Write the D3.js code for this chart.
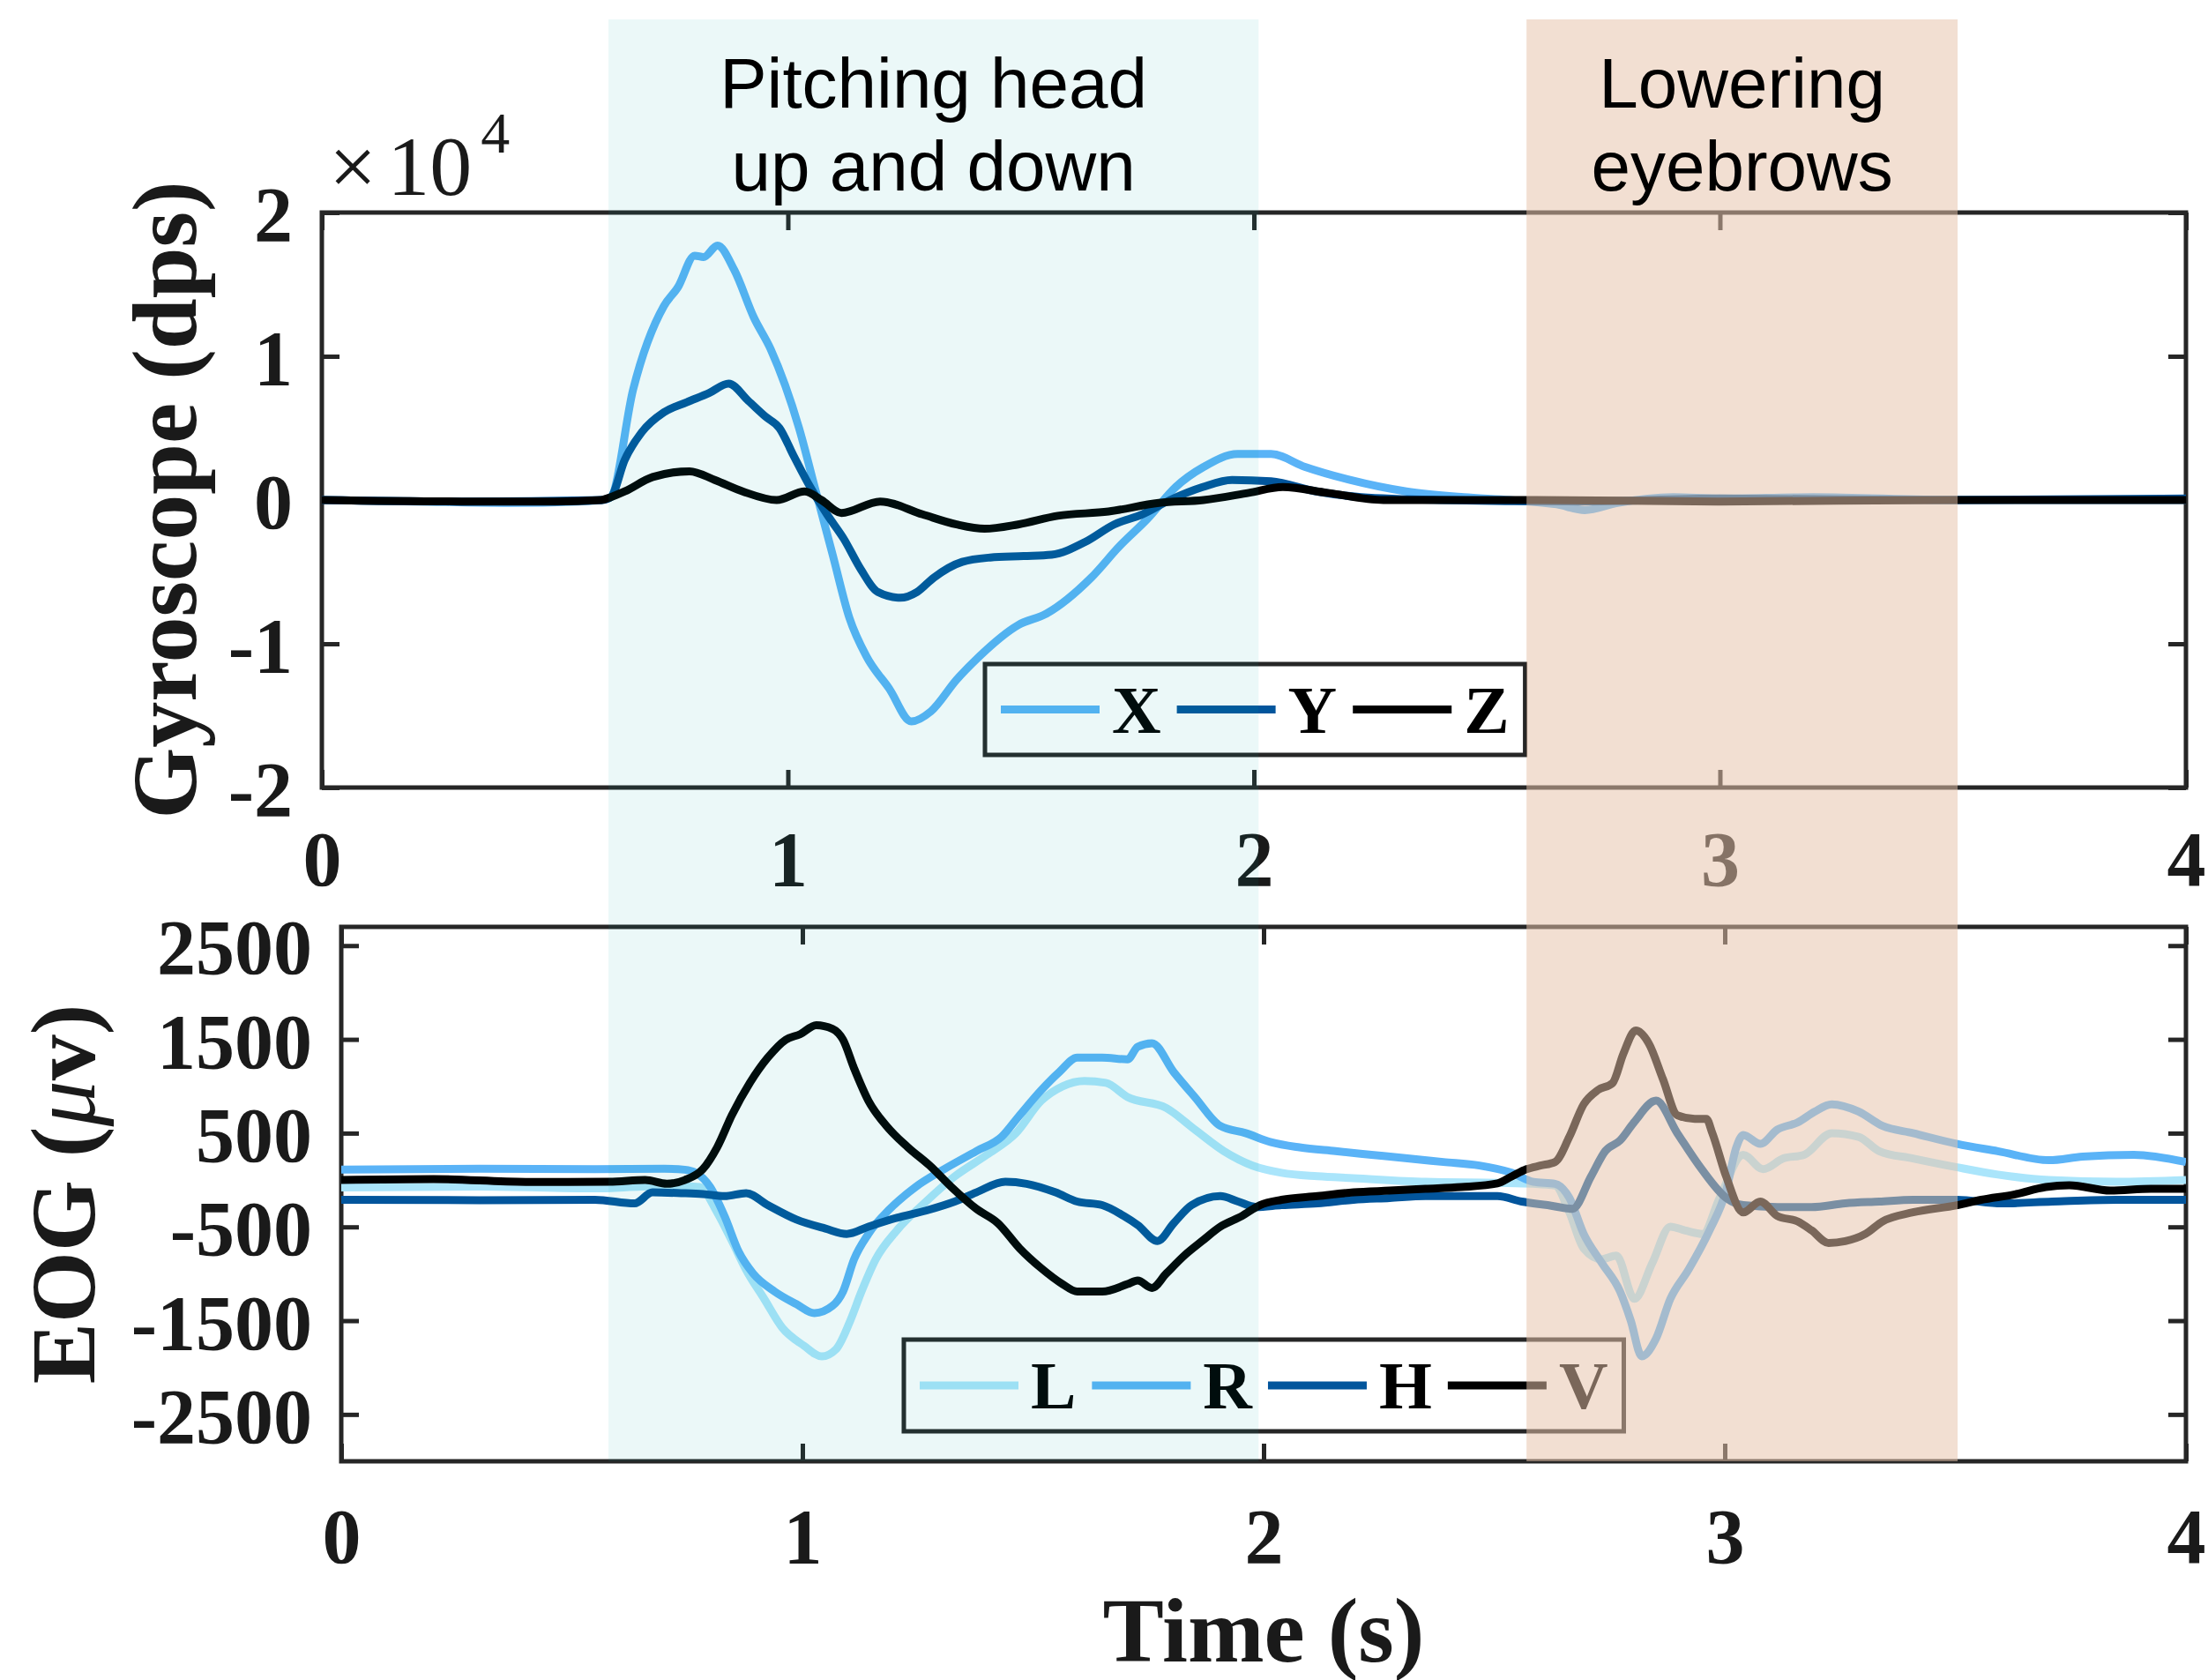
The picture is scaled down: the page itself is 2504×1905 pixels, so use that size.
<!DOCTYPE html>
<html>
<head>
<meta charset="utf-8">
<script src="https://cdn.jsdelivr.net/npm/d3@7"></script>
<style>
  body { margin: 0; background: #fff; }
  svg { display: block; }
  .tick text { font-family: "Liberation Serif", "Times New Roman", serif; font-weight: bold; font-size: 88px; fill: #1a1a1a; }
</style>
</head>
<body>
<svg id="chart" width="2504" height="1905"></svg>
<script>
"use strict";

// time (s) / value pairs
// gyroscope, dps
var gyroX = [[0,0],[0.2,-100],[0.4,-200],[0.55,-100],[0.6,0],[0.62,200],[0.668,7700],[0.734,13500],[0.764,14800],
  [0.8,17000],[0.819,16900],[0.849,17700],[0.885,16000],[0.927,12700],[0.963,10500],[1.024,5000],[1.06,600],
  [1.096,-3800],[1.132,-8200],[1.169,-10900],[1.217,-13100],[1.265,-15400],[1.307,-14700],[1.362,-12500],
  [1.41,-10900],[1.494,-8700],[1.555,-7900],[1.651,-5400],[1.712,-3200],[1.772,-1300],[1.832,900],[1.892,2300],
  [1.965,3200],[2.037,3200],[2.11,2300],[2.206,1400],[2.327,600],[2.45,200],[2.55,0],[2.65,-300],[2.71,-700],
  [2.78,-200],[2.9,200],[3.0,100],[3.2,200],[3.5,0],[4,0]];
var gyroY = [[0,0],[0.3,-100],[0.6,0],[0.62,200],[0.65,2800],[0.686,4700],[0.734,6100],[0.783,6800],[0.831,7450],
  [0.873,8100],[0.915,6900],[0.952,5800],[0.982,5000],[1.012,3100],[1.048,900],[1.084,-1000],[1.12,-2700],
  [1.157,-4850],[1.193,-6400],[1.241,-6800],[1.277,-6400],[1.313,-5400],[1.374,-4300],[1.434,-4000],[1.506,-3900],
  [1.566,-3800],[1.639,-2900],[1.7,-1700],[1.76,-1000],[1.82,0],[1.89,900],[1.953,1400],[2.037,1300],[2.134,600],
  [2.23,200],[2.4,0],[2.7,-100],[3.0,100],[3.5,0],[4,100]];
var gyroZ = [[0,0],[0.3,-100],[0.5,-100],[0.6,0],[0.62,200],[0.65,600],[0.71,1600],[0.789,2000],[0.843,1400],
  [0.903,600],[0.976,0],[1.036,600],[1.072,0],[1.115,-900],[1.198,-100],[1.289,-1000],[1.362,-1700],[1.422,-2000],
  [1.494,-1700],[1.579,-1100],[1.688,-800],[1.796,-200],[1.892,0],[1.989,500],[2.062,900],[2.158,500],[2.278,0],
  [2.6,0],[3.0,-100],[3.5,0],[4,0]];

// EOG, microvolts
var eogL = [[0,-80],[0.3,-70],[0.55,-90],[0.65,-70],[0.72,-60],[0.777,-75],[0.815,-345],[0.847,-649],[0.878,-959],
  [0.917,-1267],[0.956,-1574],[1.003,-1766],[1.042,-1881],[1.073,-1804],[1.104,-1497],[1.128,-1190],[1.159,-845],
  [1.205,-536],[1.268,-230],[1.33,38],[1.4,269],[1.463,500],[1.518,846],[1.564,999],[1.611,1056],[1.658,1036],
  [1.705,884],[1.789,768],[1.851,538],[1.914,308],[1.976,154],[2.039,77],[2.117,40],[2.195,20],[2.351,-19],
  [2.507,-30],[2.585,-40],[2.632,-60],[2.663,-345],[2.694,-729],[2.733,-845],[2.765,-806],[2.804,-1267],
  [2.843,-883],[2.882,-498],[2.913,-536],[2.952,-575],[2.989,-190],[3.04,269],[3.083,115],[3.127,230],[3.172,269],
  [3.232,500],[3.29,461],[3.335,308],[3.408,230],[3.504,135],[3.592,58],[3.703,0],[3.85,-19],[4,0]];
var eogR = [[0,110],[0.3,120],[0.55,115],[0.7,120],[0.745,110],[0.769,77],[0.8,-75],[0.831,-384],[0.862,-767],
  [0.893,-997],[0.94,-1190],[0.987,-1324],[1.026,-1420],[1.065,-1343],[1.088,-1190],[1.112,-845],[1.143,-575],
  [1.19,-307],[1.245,-75],[1.307,115],[1.377,308],[1.432,461],[1.471,691],[1.518,960],[1.557,1152],[1.596,1306],
  [1.65,1306],[1.705,1287],[1.727,1420],[1.758,1459],[1.805,1152],[1.851,884],[1.906,577],[1.961,500],[2.016,404],
  [2.078,348],[2.156,308],[2.234,269],[2.312,230],[2.39,192],[2.468,154],[2.538,77],[2.585,-19],[2.632,-40],
  [2.663,-190],[2.694,-575],[2.733,-883],[2.773,-1190],[2.796,-1497],[2.82,-1880],[2.851,-1690],[2.882,-1267],
  [2.921,-959],[2.967,-536],[3.003,-113],[3.025,348],[3.04,480],[3.077,385],[3.114,538],[3.158,614],[3.195,730],
  [3.232,807],[3.29,730],[3.342,577],[3.408,500],[3.504,385],[3.592,308],[3.703,211],[3.776,250],[3.887,269],[4,192]];
var eogH = [[0,-210],[0.3,-215],[0.55,-210],[0.636,-249],[0.675,-132],[0.737,-140],[0.784,-150],[0.831,-172],
  [0.878,-140],[0.925,-268],[0.987,-422],[1.05,-518],[1.096,-575],[1.143,-498],[1.205,-403],[1.268,-326],[1.33,-230],
  [1.377,-132],[1.44,-19],[1.486,-40],[1.549,-132],[1.596,-230],[1.65,-268],[1.697,-384],[1.727,-480],[1.77,-650],
  [1.805,-461],[1.844,-268],[1.906,-172],[1.945,-230],[1.984,-288],[2.039,-268],[2.117,-249],[2.195,-211],
  [2.273,-192],[2.351,-172],[2.507,-172],[2.56,-230],[2.616,-268],[2.67,-307],[2.71,38],[2.741,310],[2.773,423],
  [2.803,614],[2.851,846],[2.897,500],[2.95,115],[3.003,-190],[3.04,-268],[3.114,-288],[3.188,-288],[3.261,-249],
  [3.335,-230],[3.408,-211],[3.504,-211],[3.6,-249],[3.71,-230],[3.85,-211],[4,-211]];
var eogV = [[0,0],[0.2,10],[0.4,-20],[0.581,-19],[0.659,0],[0.706,-40],[0.745,0],[0.784,115],[0.815,348],
  [0.847,691],[0.886,1036],[0.925,1306],[0.964,1497],[0.995,1555],[1.03,1652],[1.065,1613],[1.088,1497],
  [1.112,1191],[1.143,846],[1.182,577],[1.229,348],[1.276,154],[1.323,-75],[1.377,-307],[1.424,-461],[1.471,-729],
  [1.518,-941],[1.564,-1110],[1.596,-1190],[1.65,-1190],[1.705,-1110],[1.727,-1072],[1.758,-1151],[1.789,-997],
  [1.828,-806],[1.867,-649],[1.906,-498],[1.953,-384],[1.992,-268],[2.039,-211],[2.117,-172],[2.195,-132],
  [2.273,-113],[2.351,-94],[2.429,-75],[2.507,-36],[2.538,38],[2.57,115],[2.6,154],[2.632,192],[2.663,461],
  [2.694,807],[2.725,960],[2.757,1036],[2.78,1345],[2.807,1594],[2.835,1459],[2.866,1075],[2.897,691],[2.935,653],
  [2.96,653],[2.973,500],[3.003,38],[3.04,-345],[3.077,-230],[3.114,-384],[3.158,-442],[3.188,-536],[3.225,-671],
  [3.261,-652],[3.305,-575],[3.342,-442],[3.408,-345],[3.504,-268],[3.556,-211],[3.629,-153],[3.696,-75],
  [3.747,-56],[3.836,-113],[3.924,-94],[4,-94]];

var timeTicks = [0, 1, 2, 3, 4];
var gyroTicks = [-20000, -10000, 0, 10000, 20000];
var eogTicks = [-2500, -1500, -500, 500, 1500, 2500];

var gyroNames = ["X", "Y", "Z"];
var gyroColors = ["#5ab3f7", "#02559c", "#000000"];
var eogNames = ["L", "R", "H", "V"];
var eogColors = ["#aae5fb", "#5ab3f7", "#02559c", "#000000"];

// shaded activity windows, in seconds on the top axis
var regionStart = [0.615, 2.585];
var regionEnd = [2.01, 3.51];
var regionLabels = [["Pitching head", "up and down"], ["Lowering", "eyebrows"]];
var regionColors = ["rgba(0,170,170,0.08)", "rgba(230,194,170,0.53)"];

var serif = "'Liberation Serif', 'Times New Roman', serif";
var sans = "'Liberation Sans', Arial, sans-serif";

var svg = d3.select("#chart");
svg.append("rect").attr("width", 2504).attr("height", 1905).attr("fill", "#fff");

var pA = {left: 365, right: 2479, top: 241, bottom: 893};
var pB = {left: 387, right: 2479, top: 1051, bottom: 1657};

var xA = d3.scaleLinear().domain([0, 4]).range([pA.left, pA.right]);
var yA = d3.scaleLinear().domain([-20000, 20000]).range([pA.bottom, pA.top]);
var xB = d3.scaleLinear().domain([0, 4]).range([pB.left, pB.right]);
var yB = d3.scaleLinear().domain([-3000, 2700]).range([pB.bottom, pB.top]);

// plain hyphen for negatives, like the original
function plain(d) { return String(d); }

function drawAxes(p, x, y, yTicks, yFmt, padX) {
  var g = svg.append("g").attr("color", "#262626");
  g.append("g").attr("transform", "translate(0," + p.bottom + ")")
    .call(d3.axisBottom(x).tickValues(timeTicks).tickFormat(plain).tickSize(-20).tickSizeOuter(0).tickPadding(padX));
  g.append("g").attr("transform", "translate(0," + p.top + ")")
    .call(d3.axisTop(x).tickValues(timeTicks).tickFormat("").tickSize(-20).tickSizeOuter(0));
  g.append("g").attr("transform", "translate(" + p.left + ",0)")
    .call(d3.axisLeft(y).tickValues(yTicks).tickFormat(yFmt).tickSize(-20).tickSizeOuter(0).tickPadding(33))
    .selectAll("text").attr("dy", "0.36em");
  g.append("g").attr("transform", "translate(" + p.right + ",0)")
    .call(d3.axisRight(y).tickValues(yTicks).tickFormat("").tickSize(-20).tickSizeOuter(0));
  g.selectAll(".domain").remove();
  g.selectAll(".tick line").attr("stroke-width", 5);
  g.append("rect")
    .attr("x", p.left).attr("y", p.top)
    .attr("width", p.right - p.left).attr("height", p.bottom - p.top)
    .attr("fill", "none").attr("stroke", "#262626").attr("stroke-width", 5);
}

function drawLines(p, x, y, series, colors, id) {
  svg.append("clipPath").attr("id", id)
    .append("rect").attr("x", p.left).attr("y", p.top)
    .attr("width", p.right - p.left).attr("height", p.bottom - p.top);
  var line = d3.line()
    .x(function(d) { return x(d[0]); })
    .y(function(d) { return y(d[1]); })
    .curve(d3.curveMonotoneX);
  var g = svg.append("g").attr("clip-path", "url(#" + id + ")");
  series.forEach(function(s, i) {
    g.append("path")
      .attr("d", line(s))
      .attr("fill", "none")
      .attr("stroke", colors[i])
      .attr("stroke-width", 9)
      .attr("stroke-linejoin", "round");
  });
}

function drawLegend(x0, y0, h, names, colors) {
  var g = svg.append("g");
  var box = g.append("rect").attr("x", x0).attr("y", y0).attr("height", h)
    .attr("fill", "#fff").attr("stroke", "#262626").attr("stroke-width", 5);
  var cx = x0 + 18, cy = y0 + h / 2;
  names.forEach(function(n, i) {
    g.append("line").attr("x1", cx).attr("x2", cx + 112).attr("y1", cy).attr("y2", cy)
      .attr("stroke", colors[i]).attr("stroke-width", 9);
    var t = g.append("text").attr("x", cx + 126).attr("y", cy + 26)
      .attr("font-family", serif).attr("font-weight", "bold").attr("font-size", 77)
      .attr("fill", "#000").text(n);
    cx += 126 + t.node().getComputedTextLength() + 18;
  });
  box.attr("width", cx - x0);
}

// top panel: gyroscope
drawAxes(pA, xA, yA, gyroTicks, function(d) { return String(d / 10000); }, 49);
drawLines(pA, xA, yA, [gyroX, gyroY, gyroZ], gyroColors, "clipA");
drawLegend(1117, 753, 103, gyroNames, gyroColors);

// bottom panel: EOG
drawAxes(pB, xB, yB, eogTicks, plain, 53);
drawLines(pB, xB, yB, [eogL, eogR, eogH, eogV], eogColors, "clipB");
drawLegend(1025, 1519, 104, eogNames, eogColors);

// exponent label
var ex = svg.append("text").attr("x", 373).attr("y", 221)
  .attr("font-family", serif).attr("font-size", 96).attr("fill", "#1a1a1a");
ex.append("tspan").text("\u00d7");
ex.append("tspan").attr("dx", 12).text("10");
ex.append("tspan").attr("dx", 10).attr("dy", -48).attr("font-size", 66).text("4");

// axis titles
svg.append("text")
  .attr("transform", "translate(222," + (pA.top + pA.bottom) / 2 + ") rotate(-90)")
  .attr("text-anchor", "middle").attr("font-family", serif).attr("font-weight", "bold")
  .attr("font-size", 104).attr("fill", "#1a1a1a")
  .text("Gyroscope (dps)");

var eogTitle = svg.append("text")
  .attr("transform", "translate(107," + (pB.top + pB.bottom) / 2 + ") rotate(-90)")
  .attr("text-anchor", "middle").attr("font-family", serif).attr("font-weight", "bold")
  .attr("font-size", 104).attr("fill", "#1a1a1a");
eogTitle.append("tspan").text("EOG (");
eogTitle.append("tspan").attr("font-style", "italic").attr("font-weight", "normal").text("\u03bc");
eogTitle.append("tspan").text("v)");

svg.append("text")
  .attr("x", (pB.left + pB.right) / 2).attr("y", 1884)
  .attr("text-anchor", "middle").attr("font-family", serif).attr("font-weight", "bold")
  .attr("font-size", 104).attr("fill", "#1a1a1a")
  .text("Time (s)");

// shaded windows over both panels
regionStart.forEach(function(t0, i) {
  svg.append("rect")
    .attr("x", xA(t0)).attr("y", 22)
    .attr("width", xA(regionEnd[i]) - xA(t0))
    .attr("height", pB.bottom - 22)
    .attr("fill", regionColors[i]);
  var cx = (xA(t0) + xA(regionEnd[i])) / 2;
  regionLabels[i].forEach(function(s, j) {
    svg.append("text")
      .attr("x", cx).attr("y", 122 + j * 94)
      .attr("text-anchor", "middle").attr("font-family", sans)
      .attr("font-size", 80).attr("fill", "#000")
      .text(s);
  });
});
</script>
</body>
</html>
